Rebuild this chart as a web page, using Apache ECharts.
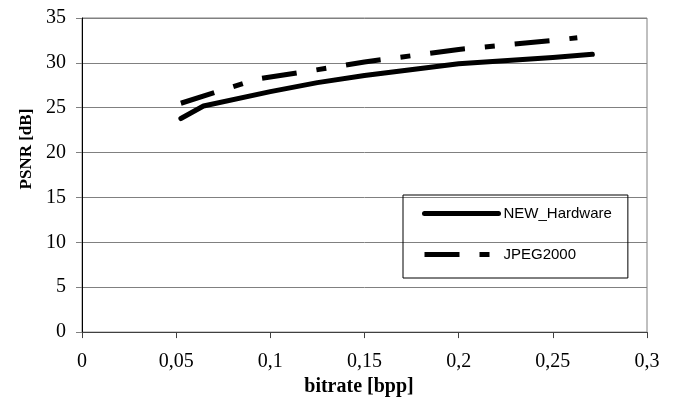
<!DOCTYPE html>
<html>
<head>
<meta charset="utf-8">
<script src="https://cdn.jsdelivr.net/npm/echarts@6/dist/echarts.min.js"></script>
<style>
  html, body { margin: 0; padding: 0; background: #fff; }
  #chart { width: 673px; height: 402px; }
</style>
</head>
<body>
<div id="chart"></div>
<script>
// bitrate [bpp] / PSNR [dB]
const hwBitrate = [0.0525, 0.0645, 0.1, 0.125, 0.15, 0.2, 0.25, 0.271]
const hwPsnr = [23.8, 25.2, 26.8, 27.8, 28.6, 29.9, 30.6, 30.95]
const jpBitrate = [0.0525, 0.093, 0.118, 0.15, 0.2, 0.25, 0.263]
const jpPsnr = [25.5, 28.2, 29.0, 30.1, 31.5, 32.5, 32.8]
const seriesNames = ['NEW_Hardware', 'JPEG2000']
const xTicks = [0, 0.05, 0.1, 0.15, 0.2, 0.25, 0.3]
const yTicks = [0, 5, 10, 15, 20, 25, 30, 35]

const serif = 'Liberation Serif'
const comma = v => String(+v.toFixed(2)).replace('.', ',')

const chart = echarts.init(document.getElementById('chart'))

const option = {
  animation: false,
  grid: {
    left: 82, right: 26, top: 18, bottom: 67,
    show: true, borderColor: '#808080', borderWidth: 1
  },
  legend: {
    orient: 'vertical',
    left: 403, top: 195,
    padding: [11, 16, 16, 19],
    itemWidth: 74, itemHeight: 14, itemGap: 26,
    borderColor: '#000', borderWidth: 1,
    selectedMode: false,
    lineStyle: { width: 5 },
    itemStyle: { opacity: 0 },
    textStyle: { fontFamily: 'Liberation Sans', fontSize: 15, color: '#000' },
    data: seriesNames
  },
  xAxis: {
    type: 'value',
    min: xTicks[0], max: xTicks[xTicks.length - 1], interval: 0.05,
    name: 'bitrate [bpp]',
    nameLocation: 'middle',
    nameGap: 38,
    nameTextStyle: {
      fontFamily: serif, fontSize: 20, fontWeight: 'bold', color: '#000',
      padding: [0, 11, 0, 0]
    },
    axisLine: { lineStyle: { color: '#404040', width: 1 } },
    axisTick: { show: true, inside: false, length: 6, lineStyle: { color: '#404040' } },
    axisLabel: {
      margin: 20, fontFamily: serif, fontSize: 20, color: '#000',
      formatter: v => comma(v)
    },
    splitLine: { show: false }
  },
  yAxis: {
    type: 'value',
    min: yTicks[0], max: yTicks[yTicks.length - 1], interval: 5,
    name: 'PSNR [dB]',
    nameLocation: 'middle',
    nameRotate: 90,
    nameGap: 46,
    nameTextStyle: {
      fontFamily: serif, fontSize: 17, fontWeight: 'bold', color: '#000',
      padding: [0, 0, 0, 52]
    },
    axisLine: { show: true, lineStyle: { color: '#000', width: 1 } },
    axisTick: { show: true, length: 6, lineStyle: { color: '#808080' } },
    axisLabel: {
      margin: 16, fontFamily: serif, fontSize: 20, color: '#000'
    },
    splitLine: { lineStyle: { color: '#808080', width: 1 } }
  },
  series: [
    {
      name: seriesNames[0],
      type: 'line',
      symbol: 'none',
      data: hwBitrate.map((x, i) => [x, hwPsnr[i]]),
      lineStyle: { color: '#000', width: 5, cap: 'round', join: 'round' },
      itemStyle: { color: '#000' },
      emphasis: { disabled: true }
    },
    {
      name: seriesNames[1],
      type: 'line',
      symbol: 'none',
      data: jpBitrate.map((x, i) => [x, jpPsnr[i]]),
      lineStyle: { color: '#000', width: 5, type: [35, 20, 10, 20], cap: 'butt' },
      itemStyle: { color: '#000' },
      emphasis: { disabled: true }
    }
  ]
}

chart.setOption(option)
</script>
</body>
</html>
